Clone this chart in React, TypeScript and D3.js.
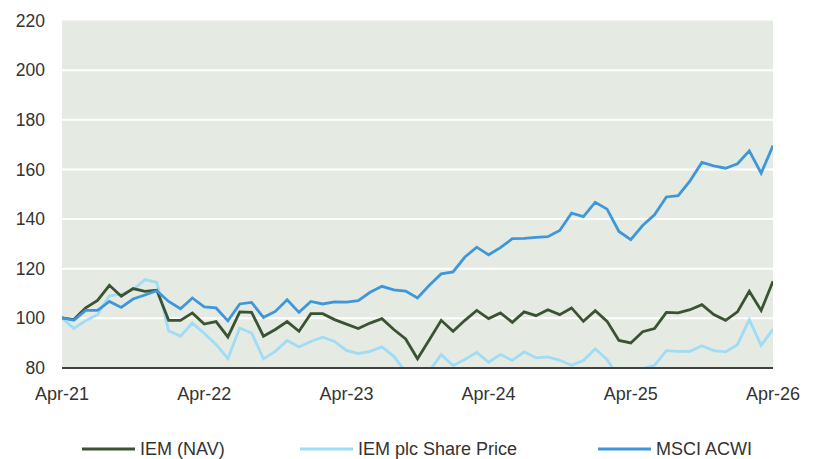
import React, { useEffect, useRef } from 'react';
import * as d3 from 'd3';

// monthly index values, Apr-21 .. Apr-26 (61 points)
const navValues = [
  100.2, 99.5, 104.2, 107.2, 113.3, 108.9, 112, 110.9, 111.3, 99.2, 99.2, 102.2, 97.7,
  98.7, 92.5, 102.6, 102.4, 92.8, 95.5, 98.7, 94.8, 101.9, 101.9, 99.5, 97.7,
  95.9, 98.1, 99.9, 95.5, 91.7, 83.7, 91.4, 99.2, 94.8, 99.2, 103.2, 99.9,
  102.2, 98.4, 102.6, 101.1, 103.5, 101.5, 104.2, 98.8, 103.1, 98.8, 91.1, 90.1,
  94.6, 95.9, 102.4, 102.2, 103.5, 105.5, 101.5, 99.2, 102.6, 110.9, 103.2, 114.9,
];
const sharePriceValues = [
  100.2, 95.9, 99.1, 101.5, 109.1, 109.8, 111.5, 115.6, 114.5, 95, 92.8, 98.1, 94,
  89.5, 83.8, 96.1, 94.1, 83.7, 86.7, 91.1, 88.5, 90.7, 92.4, 90.7, 87.1,
  85.8, 86.7, 88.5, 84.7, 78.5, 72, 78.8, 85.4, 81, 83.4, 86.3, 82.3,
  85.4, 83.1, 86.5, 84.1, 84.5, 83.1, 81.1, 83, 87.7, 83.4, 75.9, 74,
  79.7, 81.1, 87, 86.7, 86.7, 89, 87, 86.5, 89.4, 99.5, 89.1, 95.7,
];
const msciValues = [
  100.2, 99.2, 103.2, 103.2, 106.8, 104.4, 107.8, 109.4, 111.1, 106.8, 103.9, 108.2, 104.6,
  104.2, 99, 105.8, 106.4, 100.4, 102.8, 107.5, 102.4, 106.8, 105.8, 106.6, 106.5,
  107.1, 110.5, 112.9, 111.5, 111, 108.2, 113.3, 117.9, 118.7, 124.7, 128.7, 125.6,
  128.5, 132.1, 132.2, 132.6, 132.9, 135.4, 142.4, 141, 146.8, 144, 135, 131.7,
  137.4, 141.7, 148.9, 149.4, 155.4, 162.8, 161.4, 160.5, 162.3, 167.5, 158.5, 169.6,
];
const seriesNames = ['IEM (NAV)', 'IEM plc Share Price', 'MSCI ACWI'];
const seriesColors = ['#3a5332', '#a0dcf5', '#3f97da'];
const xTickLabels = ['Apr-21', 'Apr-22', 'Apr-23', 'Apr-24', 'Apr-25', 'Apr-26'];
const yTicks = [80, 100, 120, 140, 160, 180, 200, 220];

const W = 817;
const H = 459;
const margin = { left: 62, right: 44, top: 20.5, bottom: 91 };
const font = '"Liberation Sans", Arial, sans-serif';

export default function App() {
  const ref = useRef<SVGSVGElement>(null);

  useEffect(() => {
    const svg = d3.select(ref.current);
    svg.selectAll('*').remove();

    const x = d3.scaleLinear().domain([0, 60]).range([margin.left, W - margin.right]);
    const y = d3.scaleLinear().domain([80, 220]).range([H - margin.bottom, margin.top]);

    svg.append('defs').append('clipPath').attr('id', 'plot-clip')
      .append('rect')
      .attr('x', margin.left).attr('y', margin.top)
      .attr('width', x(60) - x(0)).attr('height', y(80) - y(220));

    svg.append('rect')
      .attr('x', margin.left).attr('y', margin.top)
      .attr('width', x(60) - x(0)).attr('height', y(80) - y(220))
      .attr('fill', '#e5eae3');

    svg.append('g').selectAll('line')
      .data(yTicks.filter(d => d > 80 && d < 220))
      .join('line')
      .attr('x1', x(0)).attr('x2', x(60))
      .attr('y1', d => y(d)).attr('y2', d => y(d))
      .attr('stroke', '#ffffff').attr('stroke-width', 2);

    const line = d3.line<number>().x((d, i) => x(i)).y(d => y(d));
    const all = [navValues, sharePriceValues, msciValues];
    const plot = svg.append('g').attr('clip-path', 'url(#plot-clip)');
    // share price first, then NAV, MSCI on top
    [1, 0, 2].forEach(k => {
      plot.append('path')
        .datum(all[k])
        .attr('d', line)
        .attr('fill', 'none')
        .attr('stroke', seriesColors[k])
        .attr('stroke-width', 2.8)
        .attr('stroke-linejoin', 'miter');
    });

    svg.append('line')
      .attr('x1', x(0)).attr('x2', x(60))
      .attr('y1', y(80)).attr('y2', y(80))
      .attr('stroke', '#404040').attr('stroke-width', 2);

    svg.append('g').selectAll('text')
      .data(yTicks)
      .join('text')
      .attr('x', 45).attr('y', d => y(d))
      .attr('dy', '0.35em')
      .attr('text-anchor', 'end')
      .attr('font-family', font).attr('font-size', 17.5).attr('fill', '#333')
      .text(d => d);

    svg.append('g').selectAll('text')
      .data(xTickLabels)
      .join('text')
      .attr('x', (d, i) => x(i * 12)).attr('y', 400)
      .attr('text-anchor', 'middle')
      .attr('font-family', font).attr('font-size', 18).attr('fill', '#333')
      .text(d => d);

    const legendX = [82, 300, 598];
    const lg = svg.append('g').selectAll('g')
      .data(seriesNames)
      .join('g')
      .attr('transform', (d, i) => `translate(${legendX[i]},449)`);
    lg.append('line')
      .attr('x1', 0).attr('x2', 53)
      .attr('stroke', (d, i) => seriesColors[i]).attr('stroke-width', 3);
    lg.append('text')
      .attr('x', 58).attr('dy', '0.35em')
      .attr('font-family', font).attr('font-size', 18).attr('fill', '#333')
      .text(d => d);
  }, []);

  return (
    <svg
      ref={ref}
      width={W}
      height={H}
      style={{ display: 'block', position: 'absolute', left: 0, top: 0 }}
    />
  );
}
